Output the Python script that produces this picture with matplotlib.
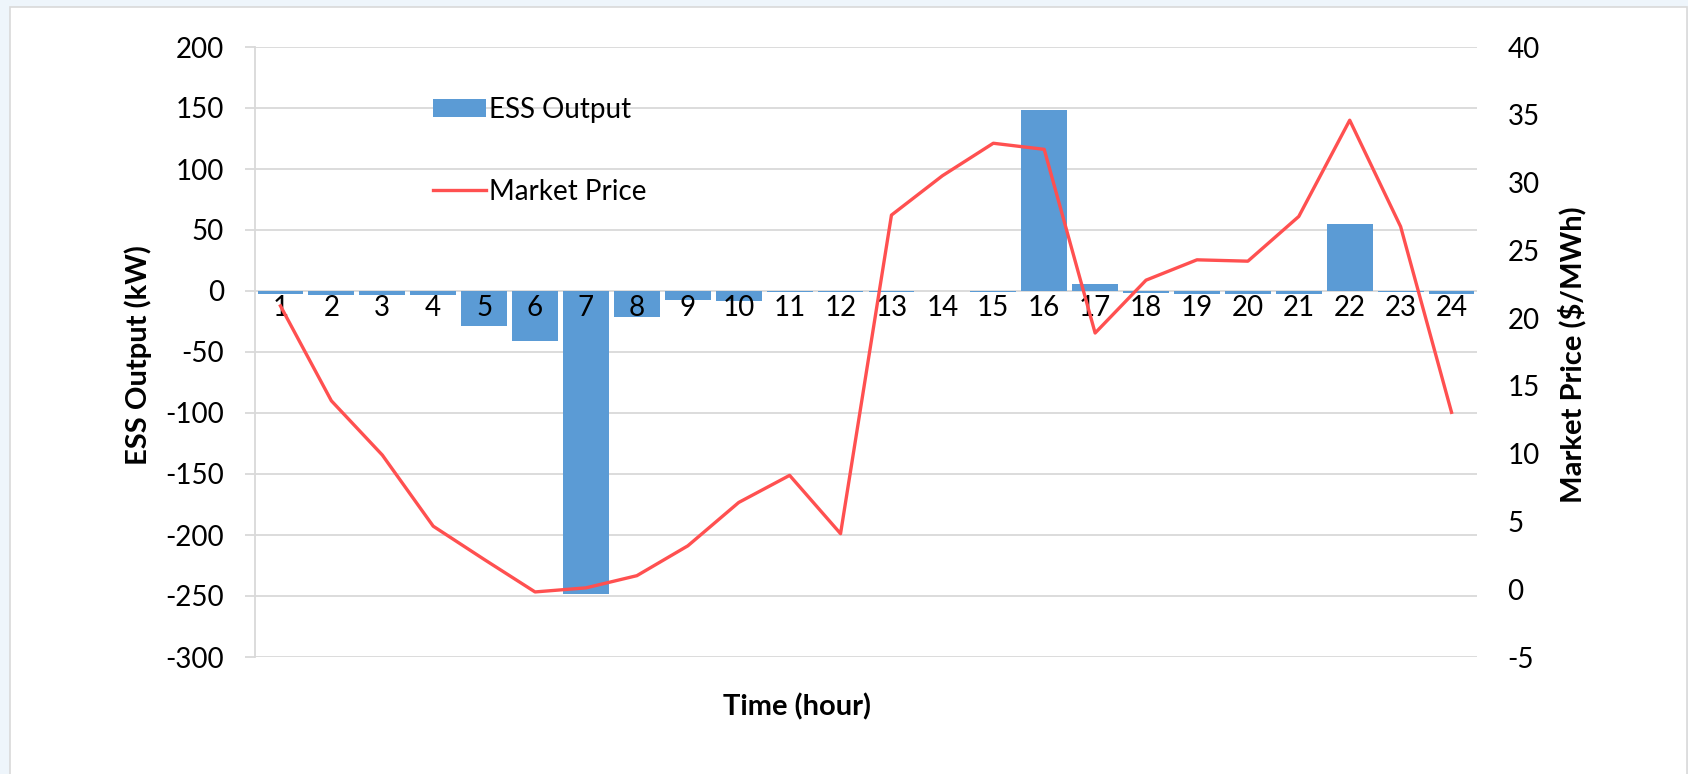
import matplotlib
matplotlib.use("Agg")
import matplotlib.pyplot as plt
from matplotlib.patches import Rectangle

plt.rcParams['font.family'] = ['Lato', 'DejaVu Sans']
plt.rcParams['axes.unicode_minus'] = False

hours = list(range(1, 25))
hour_labels = [str(h) for h in hours]
ess_output = [-2.2, -3, -3, -3, -29, -41, -248, -21, -7.4, -8, -1, -0.5,
              -0.5, -0.3, -1, 148, 6, -1.5, -2.5, -2.5, -2.5, 55, -0.5, -2.5]
market_price = [20.9, 13.9, 9.9, 4.65, 2.2, -0.2, 0.1, 1.0, 3.2, 6.4, 8.4, 4.1,
                27.6, 30.5, 32.9, 32.45, 18.9, 22.8, 24.3, 24.2, 27.5, 34.6, 26.75, 13.05]
left_ticks = list(range(-300, 201, 50))
right_ticks = list(range(-5, 41, 5))

W, H = 1688, 774
fig = plt.figure(figsize=(W / 100, H / 100), dpi=100)
fig.patch.set_facecolor('#eef5fb')
fig.add_artist(Rectangle((10 / W, -0.01), (W - 11) / W, 1 - 7 / H + 0.01,
                         transform=fig.transFigure, facecolor='white',
                         edgecolor='#d9d9d9', lw=1.2, zorder=0))

L, R, T, B = 255, 1477, 47, 657
ax = fig.add_axes([L / W, 1 - B / H, (R - L) / W, (B - T) / H])
ax.patch.set_alpha(0)
ax2 = ax.twinx()

for yv in left_ticks:
    ax.axhline(yv, color='#d9d9d9', lw=1.3, zorder=0.5)

bars = ax.bar(hours, ess_output, width=0.9, color='#5B9BD5', zorder=1,
              label='ESS Output')
ax.set_xlim(0.5, 24.5)
ax.set_ylim(-300, 200)
ax.set_yticks(left_ticks)
ax.set_xticks(hours)
ax.set_xticklabels(hour_labels)
ax.set_axisbelow(False)
for s in ['top', 'right']:
    ax.spines[s].set_visible(False)
ax.spines['bottom'].set_position(('data', 0))
ax.spines['bottom'].set_visible(False)
ax.spines['left'].set_color('#d9d9d9')
ax.spines['left'].set_linewidth(1.3)
ax.tick_params(axis='x', length=0, pad=3, labelsize=20, labelcolor='black')
ax.tick_params(axis='y', length=7.2, width=1.3, color='#d9d9d9', pad=15,
               labelsize=20, labelcolor='black')

line, = ax2.plot(hours, market_price, color='#FF5050', lw=2.4, zorder=3,
                 label='Market Price')
ax2.set_ylim(-5, 40)
ax2.set_yticks(right_ticks)
for s in ax2.spines.values():
    s.set_visible(False)
ax2.tick_params(axis='y', length=0, pad=22, labelsize=20, labelcolor='black')

fig.text(138 / W, 1 - 355 / H, 'ESS Output (kW)', rotation=90, ha='center',
         va='center', fontsize=21, fontweight='bold')
fig.text(1572 / W, 1 - 355 / H, 'Market Price ($/MWh)', rotation=90,
         ha='center', va='center', fontsize=21, fontweight='bold')
fig.text(797 / W, 1 - 707 / H, 'Time (hour)', ha='center', va='center',
         fontsize=21, fontweight='bold')

fig.legend(handles=[bars, line], labels=['ESS Output', 'Market Price'],
           loc='upper left', bbox_to_anchor=(433 / W, 1 - 97 / H),
           frameon=False, fontsize=20, borderpad=0, borderaxespad=0,
           handlelength=1.9, handletextpad=0.12, labelspacing=2.0,
           handleheight=0.6)

fig.savefig('out.png', dpi=100, facecolor=fig.get_facecolor())
